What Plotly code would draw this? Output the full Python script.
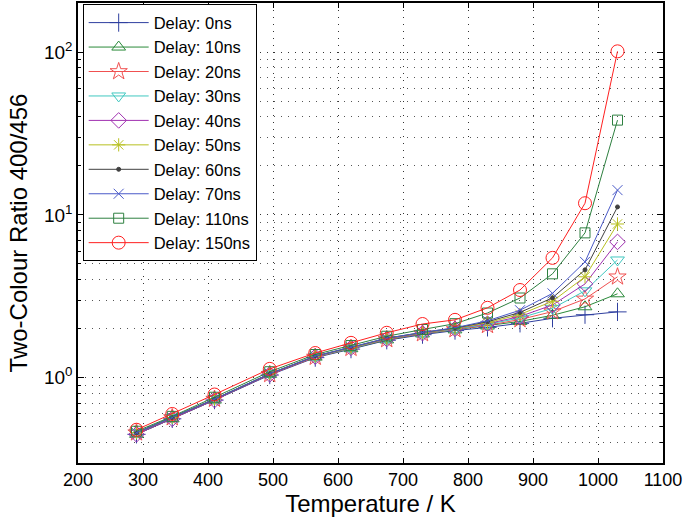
import plotly.graph_objects as go

temperature = [290, 345, 410, 495, 565, 620, 675, 730, 780, 830, 880, 930, 980, 1030]

delay_0ns = [0.45, 0.56, 0.73, 1.04, 1.33, 1.50, 1.70, 1.84, 1.95, 2.04, 2.16, 2.32, 2.44, 2.54]
delay_10ns = [0.45, 0.56, 0.73, 1.05, 1.34, 1.51, 1.71, 1.86, 1.97, 2.08, 2.22, 2.42, 2.73, 3.28]
delay_20ns = [0.46, 0.57, 0.74, 1.05, 1.34, 1.52, 1.72, 1.87, 1.98, 2.10, 2.28, 2.55, 3.05, 4.17]
delay_30ns = [0.46, 0.57, 0.74, 1.06, 1.35, 1.52, 1.73, 1.88, 1.99, 2.13, 2.33, 2.67, 3.42, 5.29]
delay_40ns = [0.45, 0.56, 0.73, 1.05, 1.35, 1.53, 1.73, 1.88, 2.00, 2.15, 2.38, 2.80, 3.77, 6.83]
delay_50ns = [0.46, 0.57, 0.74, 1.06, 1.36, 1.53, 1.74, 1.89, 2.01, 2.18, 2.45, 2.95, 4.17, 8.8]
delay_60ns = [0.46, 0.57, 0.74, 1.06, 1.36, 1.54, 1.75, 1.90, 2.02, 2.21, 2.52, 3.10, 4.6, 11.2]
delay_70ns = [0.46, 0.57, 0.74, 1.06, 1.36, 1.54, 1.75, 1.90, 2.03, 2.24, 2.60, 3.30, 5.15, 14.2]
delay_110ns = [0.47, 0.58, 0.76, 1.09, 1.39, 1.58, 1.80, 1.98, 2.15, 2.50, 3.09, 4.35, 7.76, 38.2]
delay_150ns = [0.48, 0.60, 0.79, 1.135, 1.42, 1.64, 1.89, 2.14, 2.27, 2.69, 3.46, 5.45, 11.8, 101]

series_names = ["Delay: 0ns", "Delay: 10ns", "Delay: 20ns", "Delay: 30ns", "Delay: 40ns",
                "Delay: 50ns", "Delay: 60ns", "Delay: 70ns", "Delay: 110ns", "Delay: 150ns"]
series_values = [delay_0ns, delay_10ns, delay_20ns, delay_30ns, delay_40ns,
                 delay_50ns, delay_60ns, delay_70ns, delay_110ns, delay_150ns]

x_ticks = [200, 300, 400, 500, 600, 700, 800, 900, 1000, 1100]
y_major = [1, 10, 100]
y_major_text = ["10<sup>0</sup>", "10<sup>1</sup>", "10<sup>2</sup>"]
y_minor = [0.3, 0.4, 0.5, 0.6, 0.7, 0.8, 0.9, 2, 3, 4, 5, 6, 7, 8, 9,
           20, 30, 40, 50, 60, 70, 80, 90, 200]

colors = ["#2f3f9f", "#2a8a3a", "#f05050", "#40c8c0", "#a030b0",
          "#b8c020", "#404040", "#4a5ac8", "#2e8040", "#ff2020"]
symbols = ["cross-thin-open", "triangle-up-open", "star-open", "triangle-down-open", "diamond-open",
           "asterisk-open", "circle", "x-thin-open", "square-open", "circle-open"]
sizes = [13, 12, 13, 12, 12, 11, 4, 10, 10, 13]

fig = go.Figure()
for name, vals, c, s, sz in zip(series_names, series_values, colors, symbols, sizes):
    fig.add_trace(go.Scatter(
        x=temperature, y=vals, name=name, mode="lines+markers",
        line=dict(color=c, width=1),
        marker=dict(symbol=s, size=sz, color=c, line=dict(color=c, width=1)),
    ))

font_family = "Liberation Sans, Arial, sans-serif"
fig.update_layout(
    width=683, height=525,
    margin=dict(l=78, r=20, t=3, b=62, autoexpand=False),
    paper_bgcolor="white", plot_bgcolor="white",
    font=dict(family=font_family, color="black"),
    showlegend=True,
    legend=dict(x=0.008, y=0.997, xanchor="left", yanchor="top",
                bgcolor="white", bordercolor="black", borderwidth=1,
                font=dict(size=16.5, family=font_family), itemwidth=60,
                tracegroupgap=0),
)
fig.update_xaxes(
    range=[200, 1100], tickvals=x_ticks, automargin=False,
    showline=True, linecolor="black", linewidth=1.5, mirror="allticks",
    ticks="inside", ticklen=5, tickcolor="black",
    showgrid=True, gridcolor="#333333", griddash="1px,6px", gridwidth=1,
    zeroline=False, tickfont=dict(size=18),
    title=dict(text="Temperature / K", font=dict(size=24), standoff=4),
)
fig.update_yaxes(
    type="log", range=[0.4771 - 1, 2.301], automargin=False,
    tickvals=y_major, ticktext=y_major_text,
    showline=True, linecolor="black", linewidth=1.5, mirror="allticks",
    ticks="inside", ticklen=6, tickcolor="black",
    showgrid=True, gridcolor="#333333", griddash="1px,6px", gridwidth=1,
    minor=dict(tickvals=y_minor, ticks="inside", ticklen=3, tickcolor="black",
               showgrid=True, gridcolor="#555555", griddash="1px,6px", gridwidth=1),
    zeroline=False, tickfont=dict(size=19),
    title=dict(text="Two-Colour Ratio 400/456", font=dict(size=24), standoff=10),
)

fig.write_html("out.html", config={"displayModeBar": False},
               post_script="document.body.style.margin='0px';")
